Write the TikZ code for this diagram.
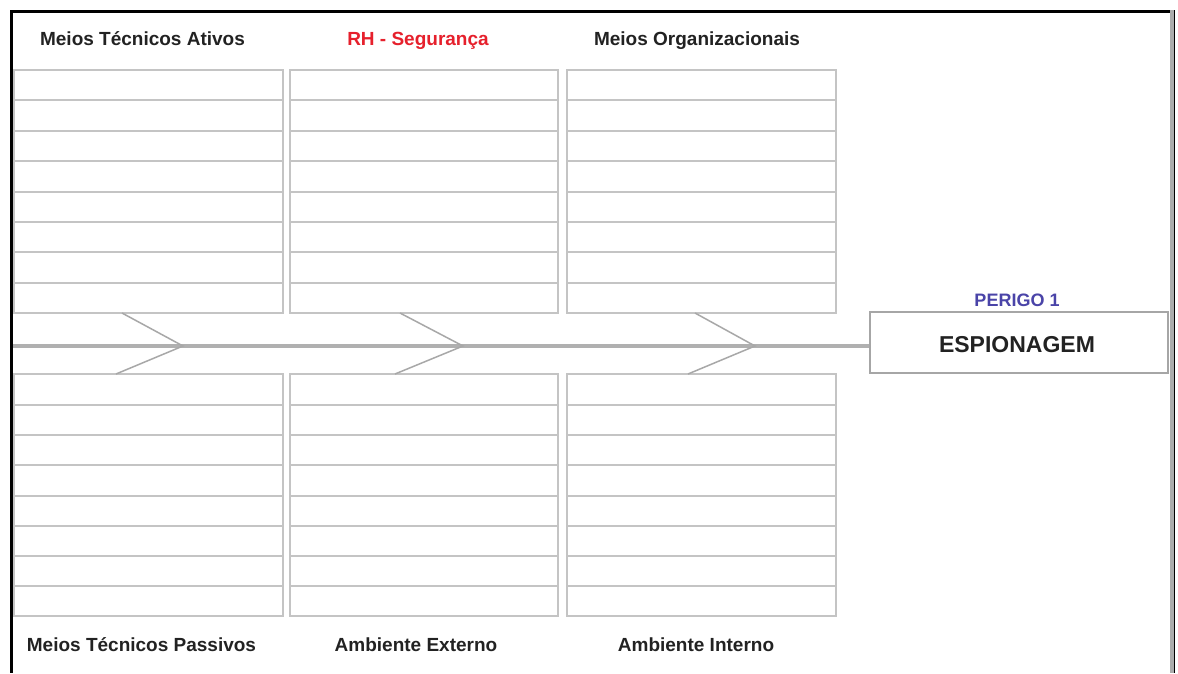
\documentclass[tikz,border=0pt]{standalone}
\usepackage{fontspec}
\setmainfont{Liberation Sans}
\definecolor{cellgray}{HTML}{C4C4C4}
\definecolor{spinegray}{HTML}{B0B0B0}
\definecolor{bonegray}{HTML}{A8A8A8}
\definecolor{labelink}{HTML}{222222}
\definecolor{rhred}{HTML}{E6202C}
\definecolor{hazblue}{HTML}{4A44A8}
\definecolor{boxgray}{HTML}{A6A6A6}
\begin{document}
\begin{tikzpicture}[x=1pt,y=-1pt,
  cell/.style={draw=cellgray,line width=1.5pt},
  catlabel/.style={anchor=base,inner sep=0pt,text=labelink,
    font=\fontsize{19}{21}\selectfont\bfseries},
  bone/.style={draw=bonegray,line width=1.5pt},
  spine/.style={draw=spinegray,line width=4.5pt},
  hazbox/.style={draw=boxgray,line width=1.5pt,minimum width=298pt,
    minimum height=61pt,inner sep=0pt}]
\useasboundingbox (0,0) rectangle (1178,673);
\fill[white] (0,0) rectangle (1178,673);

% outer frame (open at the bottom)
\draw[line width=3pt,black] (10,11) -- (1174,11);
\draw[line width=3pt,black] (11,10) -- (11,673);
\draw[line width=4pt,gray!65] (1171.5,10) -- (1171.5,673);
\draw[line width=1pt,black] (1174,10) -- (1174,673);

% cause tables: eight rows per column, above and below the spine
\foreach \xa/\xb in {14/283, 290/558, 567/836}{
  \draw[cell] (\xa,70) rectangle (\xb,313);
  \draw[cell] (\xa,374) rectangle (\xb,616);
  \foreach \ya/\yb in {100/405, 131/435, 161/465, 192/496, 222/526, 252/556, 283/586}{
    \draw[cell] (\xa,\ya) -- (\xb,\ya);
    \draw[cell] (\xa,\yb) -- (\xb,\yb);
  }
}

% hazard box
\node[hazbox] (haz) at (1019,342.5) {};
\node[anchor=base,inner sep=0pt,text=labelink,
  font=\fontsize{23}{25}\selectfont\bfseries] (hazname) at (1017,352) {ESPIONAGEM};
\node[anchor=base,inner sep=0pt,text=hazblue,
  font=\fontsize{18}{20}\selectfont\bfseries] (hazid) at (1017,306) {PERIGO 1};

% spine
\coordinate (tail) at (13,346);
\draw[spine] (tail) -- (haz.west |- tail);

% chevron bones
\foreach \tip/\up/\lo in {183/122/116, 463/400/395, 755/695/688}{
  \draw[bone] (\up,313) -- (\tip,346) -- (\lo,374);
}

% category labels
\node[catlabel] (c1) at (142.5,45) {Meios Técnicos Ativos};
\node[catlabel,text=rhred] (c2) at (418,45) {RH - Segurança};
\node[catlabel] (c3) at (697,45) {Meios Organizacionais};
\node[catlabel] (c4) at (141.5,651.5) {Meios Técnicos Passivos};
\node[catlabel] (c5) at (416,651.5) {Ambiente Externo};
\node[catlabel] (c6) at (696,651.5) {Ambiente Interno};
\end{tikzpicture}
\end{document}
